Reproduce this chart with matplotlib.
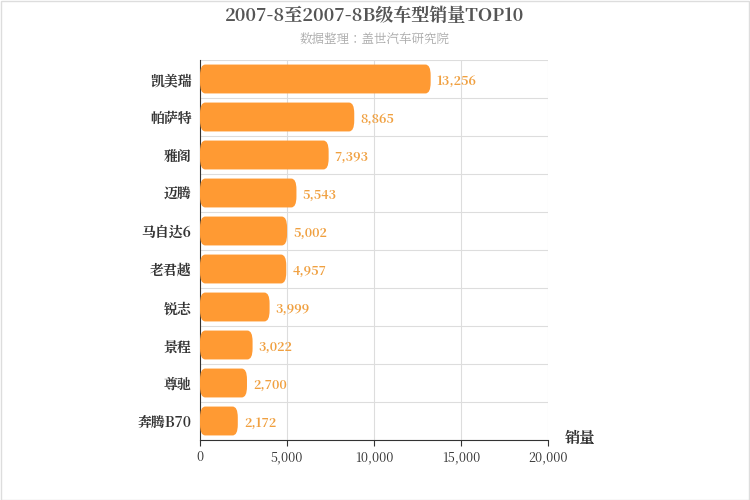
import matplotlib
matplotlib.use("Agg")
import matplotlib.pyplot as plt
from matplotlib import font_manager
from matplotlib.patches import FancyBboxPatch

cjk = [f.name for f in font_manager.fontManager.ttflist if "CJK" in f.name]
cjk_name = "Noto Sans CJK SC" if "Noto Sans CJK SC" in cjk else (cjk[0] if cjk else "DejaVu Sans")
plt.rcParams["font.family"] = [cjk_name, "DejaVu Sans"]

models = ["凯美瑞", "帕萨特", "雅阁", "迈腾", "马自达6", "老君越", "锐志", "景程", "尊驰", "奔腾B70"]
sales = [13256, 8865, 7393, 5543, 5002, 4957, 3999, 3022, 2700, 2172]
xticks = [0, 5000, 10000, 15000, 20000]

BAR = "#FF9A33"; LAB = "#F0A040"; INK = "#333333"; GRID = "#DDDDDD"

fig = plt.figure(figsize=(7.5, 5), dpi=100)
ax = fig.add_axes([200 / 750, 60 / 500, 348 / 750, 380 / 500])
n = len(models)
ys = list(range(n))
ax.set_xlim(0, 20000)
ax.set_ylim(n - 0.5, -0.5)
for y, v in zip(ys, sales):
    ax.add_patch(FancyBboxPatch((0, y - 0.38), v, 0.76,
                                boxstyle="round,pad=0,rounding_size=300",
                                mutation_aspect=0.76 / 800, fc=BAR, ec="none", zorder=3))
    ax.text(v + 350, y + 0.05, f"{v:,}", va="center", ha="left", fontsize=9,
            color=LAB, fontweight="bold", zorder=4)
ax.set_yticks(ys)
ax.set_yticklabels(models, fontsize=10, color=INK, fontweight="bold")
ax.set_xticks(xticks)
ax.set_xticklabels([f"{t:,}" for t in xticks], fontsize=9, color=INK)
for t in xticks[1:]:
    ax.axvline(t, color=GRID, lw=0.8, zorder=1)
for y in range(n + 1):
    ax.axhline(y - 0.5, color=GRID, lw=0.8, zorder=1)
for s in ["top", "right"]:
    ax.spines[s].set_visible(False)
ax.spines["left"].set_color("#333333")
ax.spines["bottom"].set_color("#333333")
ax.tick_params(axis="y", length=0, pad=6)
ax.tick_params(axis="x", length=4, color="#333333")

fig.text(0.5, 0.968, "2007-8至2007-8B级车型销量TOP10", ha="center", va="center",
         fontsize=13, fontweight="bold", color="#555555")
fig.text(0.5, 0.92, "数据整理：盖世汽车研究院", ha="center", va="center",
         fontsize=9, color="#AAAAAA")
fig.text(580 / 750, 1 - 438 / 500, "销量", ha="center", va="center",
         fontsize=11, fontweight="bold", color=INK)
fig.add_artist(plt.Rectangle((0.001, 0.001), 0.997, 0.997, transform=fig.transFigure,
                             fill=False, ec="#DDDDDD", lw=1))
fig.savefig("out.png", dpi=100)
